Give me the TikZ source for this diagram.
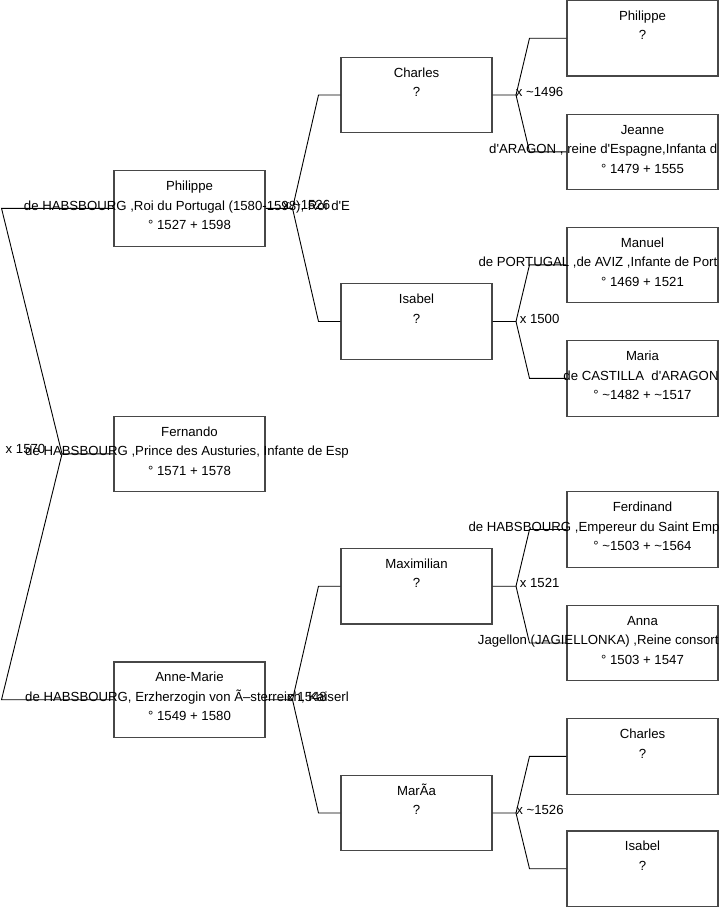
\documentclass[tikz,border=0pt]{standalone}
\usepackage{fontspec}
\newfontfamily\arialf{Liberation Sans}
\newcommand\tl{\char"7E\relax}
\begin{document}
\begin{tikzpicture}[x=1pt,y=-1pt,
  box/.style={draw=black!72,line width=1.1pt,rectangle,minimum width=151pt,minimum height=75.5pt,inner sep=0pt},
  txt/.style={inner sep=0pt,anchor=base,font=\arialf\fontsize{13.2}{16}\selectfont},
  txtl/.style={txt,anchor=base west},
  conn/.style={draw=black,line width=0.9pt}]
\useasboundingbox (0,0) rectangle (719,908);
% generation 1
\node[box] (p1) at (189.5,208.3) {};
\node[box] (p2) at (189.5,453.9) {};
\node[box] (p3) at (189.5,699.7) {};
% generation 2
\node[box] (c1) at (416.5,95) {};
\node[box] (c2) at (416.5,321.5) {};
\node[box] (c3) at (416.5,586.2) {};
\node[box] (c4) at (416.5,813) {};
% generation 3
\node[box] (g1) at (642.5,38.2) {};
\node[box] (g2) at (642.5,151.8) {};
\node[box] (g3) at (642.5,264.8) {};
\node[box] (g4) at (642.5,378.3) {};
\node[box] (g5) at (642.5,529.5) {};
\node[box] (g6) at (642.5,643) {};
\node[box] (g7) at (642.5,756.3) {};
\node[box] (g8) at (642.5,868.7) {};
% texts
\node[txt] (p1a) at (189.5,190.55) {Philippe};
\node[txt] (p1b) at (187,210.05) {de HABSBOURG ,Roi du Portugal (1580-1598), Roi d'E};
\node[txt] (p1c) at (189.5,229.55) {° 1527 + 1598};
\node[txt] (p2a) at (189.5,436.15) {Fernando};
\node[txt] (p2b) at (187,455.65) {de HABSBOURG ,Prince des Austuries, Infante de Esp};
\node[txt] (p2c) at (189.5,475.15) {° 1571 + 1578};
\node[txt] (p3a) at (189.5,681.95) {Anne-Marie};
\node[txt] (p3b) at (187,701.45) {de HABSBOURG, Erzherzogin von Ã–sterreich, Kaiserl};
\node[txt] (p3c) at (189.5,720.95) {° 1549 + 1580};
\node[txt] (c1a) at (416.5,77.25) {Charles};
\node[txt] (c1b) at (416.5,96.75) {?};
\node[txt] (c2a) at (416.5,303.75) {Isabel};
\node[txt] (c2b) at (416.5,323.25) {?};
\node[txt] (c3a) at (416.5,568.45) {Maximilian};
\node[txt] (c3b) at (416.5,587.95) {?};
\node[txt] (c4a) at (416.5,795.25) {MarÃa};
\node[txt] (c4b) at (416.5,814.75) {?};
\node[txt] (g1a) at (642.5,20.45) {Philippe};
\node[txt] (g1b) at (642.5,39.95) {?};
\node[txt] (g2a) at (642.5,134.05) {Jeanne};
\node[txtl] (g2b) at (489,153.55) {d'ARAGON , reine d'Espagne,Infanta d};
\node[txt] (g2c) at (642.5,173.05) {° 1479 + 1555};
\node[txt] (g3a) at (642.5,247.05) {Manuel};
\node[txtl] (g3b) at (478.3,266.55) {de PORTUGAL ,de AVIZ ,Infante de Port};
\node[txt] (g3c) at (642.5,286.05) {° 1469 + 1521};
\node[txt] (g4a) at (642.5,360.55) {Maria};
\node[txt] (g4b) at (641,380.05) {de CASTILLA \ d'ARAGON};
\node[txt] (g4c) at (642.5,399.55) {° \tl1482 + \tl1517};
\node[txt] (g5a) at (642.5,511.75) {Ferdinand};
\node[txtl] (g5b) at (468.3,531.25) {de HABSBOURG ,Empereur du Saint Emp};
\node[txt] (g5c) at (642.5,550.75) {° \tl1503 + \tl1564};
\node[txt] (g6a) at (642.5,625.25) {Anna};
\node[txtl] (g6b) at (477.7,644.75) {Jagellon (JAGIELLONKA) ,Reine consort};
\node[txt] (g6c) at (642.5,664.25) {° 1503 + 1547};
\node[txt] (g7a) at (642.5,738.55) {Charles};
\node[txt] (g7b) at (642.5,758.05) {?};
\node[txt] (g8a) at (642.5,850.95) {Isabel};
\node[txt] (g8b) at (642.5,870.45) {?};
% marriage labels
\node[txt] (m0) at (25.5,453.4) {x 1570};
\node[txt] (m1) at (306.5,209.8) {x \tl1526};
\node[txt] (m2) at (307,701.2) {x 1548};
\node[txt] (m3) at (539.6,96.5) {x \tl1496};
\node[txt] (m4) at (539.6,323) {x 1500};
\node[txt] (m5) at (539.7,587.7) {x 1521};
\node[txt] (m6) at (540,814.5) {x \tl1526};
% junction coordinates
\coordinate (r0) at (62,453.9);
\coordinate (r1) at (1.5,208.3);
\coordinate (r2) at (1.5,699.7);
\coordinate (va) at (292.5,208.3);
\coordinate (va1) at (318.5,95);
\coordinate (va2) at (318.5,321.5);
\coordinate (vc) at (292.5,699.7);
\coordinate (vc1) at (318.5,586.2);
\coordinate (vc2) at (318.5,813);
\coordinate (w1) at (516,95);
\coordinate (w11) at (529.5,38.2);
\coordinate (w12) at (529.5,151.8);
\coordinate (w2) at (516,321.5);
\coordinate (w21) at (529.5,264.8);
\coordinate (w22) at (529.5,378.3);
\coordinate (w3) at (516,586.2);
\coordinate (w31) at (529.5,529.5);
\coordinate (w32) at (529.5,643);
\coordinate (w4) at (516,813);
\coordinate (w41) at (529.5,756.3);
\coordinate (w42) at (529.5,868.7);
% connectors
\draw[conn] (p2.west) -- (r0) -- (r1) -- (p1.west);
\draw[conn] (r0) -- (r2) -- (p3.west);
\draw[conn] (p1.east) -- (va) -- (va1) -- (c1.west);
\draw[conn] (va) -- (va2) -- (c2.west);
\draw[conn] (p3.east) -- (vc) -- (vc1) -- (c3.west);
\draw[conn] (vc) -- (vc2) -- (c4.west);
\draw[conn] (c1.east) -- (w1) -- (w11) -- (g1.west);
\draw[conn] (w1) -- (w12) -- (g2.west);
\draw[conn] (c2.east) -- (w2) -- (w21) -- (g3.west);
\draw[conn] (w2) -- (w22) -- (g4.west);
\draw[conn] (c3.east) -- (w3) -- (w31) -- (g5.west);
\draw[conn] (w3) -- (w32) -- (g6.west);
\draw[conn] (c4.east) -- (w4) -- (w41) -- (g7.west);
\draw[conn] (w4) -- (w42) -- (g8.west);
\end{tikzpicture}
\end{document}
